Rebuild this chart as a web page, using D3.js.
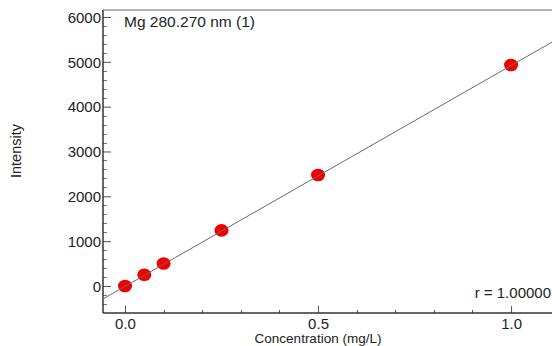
<!DOCTYPE html>
<html><head><meta charset="utf-8">
<script src="https://cdn.jsdelivr.net/npm/d3@7"></script>
<style>body{margin:0;background:#fff}svg{display:block}text{font-family:"Liberation Sans",Arial,sans-serif;fill:#222}</style>
</head><body>
<script>
const conc = [0.0, 0.05, 0.1, 0.25, 0.5, 1.0];
const intensity = [0, 250, 500, 1240, 2475, 4930];
const fitSlope = 4925, fitIntercept = -8;
const yTicks = [0, 1000, 2000, 3000, 4000, 5000, 6000];
const xTicks = [0.0, 0.5, 1.0];
const title = "Mg 280.270 nm (1)";
const rLabel = "r = 1.00000";

const W = 552, H = 346;
const L = 103, T = 10, R = 552, B = 313;
const svg = d3.select("body").append("svg").attr("width", W).attr("height", H);
const x = d3.scaleLinear().domain([-0.057, 1.106]).range([L, R]);
const y = d3.scaleLinear().domain([-603, 6156]).range([B, T]);

// top border
svg.append("line").attr("x1", L).attr("x2", R).attr("y1", T).attr("y2", T).attr("stroke", "#999").attr("stroke-width", 1.5);

// minor ticks
const yMinor = d3.range(-400, 6001, 200).filter(v => v % 1000 !== 0);
svg.selectAll(".ym").data(yMinor).join("line")
  .attr("x1", L).attr("x2", L + 4).attr("y1", d => Math.round(y(d)) + 0.5).attr("y2", d => Math.round(y(d)) + 0.5)
  .attr("stroke", "#777");
const xMinor = d3.range(0, 11).map(i => i / 10).filter(v => Math.abs(v * 2 - Math.round(v * 2)) > 1e-6);
svg.selectAll(".xm").data(xMinor).join("line")
  .attr("y1", B).attr("y2", B - 3).attr("x1", d => Math.round(x(d)) + 0.5).attr("x2", d => Math.round(x(d)) + 0.5)
  .attr("stroke", "#555");

// axes
const yAxis = d3.axisLeft(y).tickValues(yTicks).tickSize(-8).tickPadding(4).tickFormat(d3.format("d"));
const gy = svg.append("g").attr("transform", `translate(${L},0)`).call(yAxis);
const xAxis = d3.axisBottom(x).tickValues(xTicks).tickSize(-7).tickPadding(5).tickFormat(d3.format(".1f"));
const gx = svg.append("g").attr("transform", `translate(0,${B})`).call(xAxis);
[gy, gx].forEach(g => {
  g.select(".domain").remove();
  g.selectAll(".tick line").attr("stroke", "#555");
  g.selectAll(".tick text").attr("font-size", 15).attr("fill", "#222");
});
gy.selectAll(".tick text").attr("dy", "0.35em").attr("x", -2);
gx.selectAll(".tick text").attr("y", 5).attr("dy", "0.71em");
svg.append("line").attr("x1", L).attr("x2", L).attr("y1", T).attr("y2", B).attr("stroke", "#333").attr("stroke-width", 1.5);
svg.append("line").attr("x1", L).attr("x2", R).attr("y1", B).attr("y2", B).attr("stroke", "#333").attr("stroke-width", 1.5);

// points
svg.selectAll(".pt").data(conc).join("ellipse")
  .attr("cx", (d) => x(d)).attr("cy", (d, i) => y(intensity[i]))
  .attr("rx", 7).attr("ry", 6.3).attr("fill", "#f00000");

// fit line
const x0 = x.domain()[0], x1 = x.domain()[1];
svg.append("line")
  .attr("x1", x(x0)).attr("y1", y(fitSlope * x0 + fitIntercept))
  .attr("x2", x(x1)).attr("y2", y(fitSlope * x1 + fitIntercept))
  .attr("stroke", "#6a6a6a").attr("stroke-width", 1);

svg.append("text").attr("x", 124).attr("y", 27).attr("font-size", 15.5).text(title);
svg.append("text").attr("x", 551).attr("y", 298).attr("text-anchor", "end").attr("font-size", 15).text(rLabel);
svg.append("text").attr("x", 318).attr("y", 343).attr("text-anchor", "middle").attr("font-size", 13.5).text("Concentration (mg/L)");
svg.append("text").attr("transform", "translate(21,151) rotate(-90)").attr("text-anchor", "middle").attr("font-size", 14.5).text("Intensity");
</script>
</body></html>
